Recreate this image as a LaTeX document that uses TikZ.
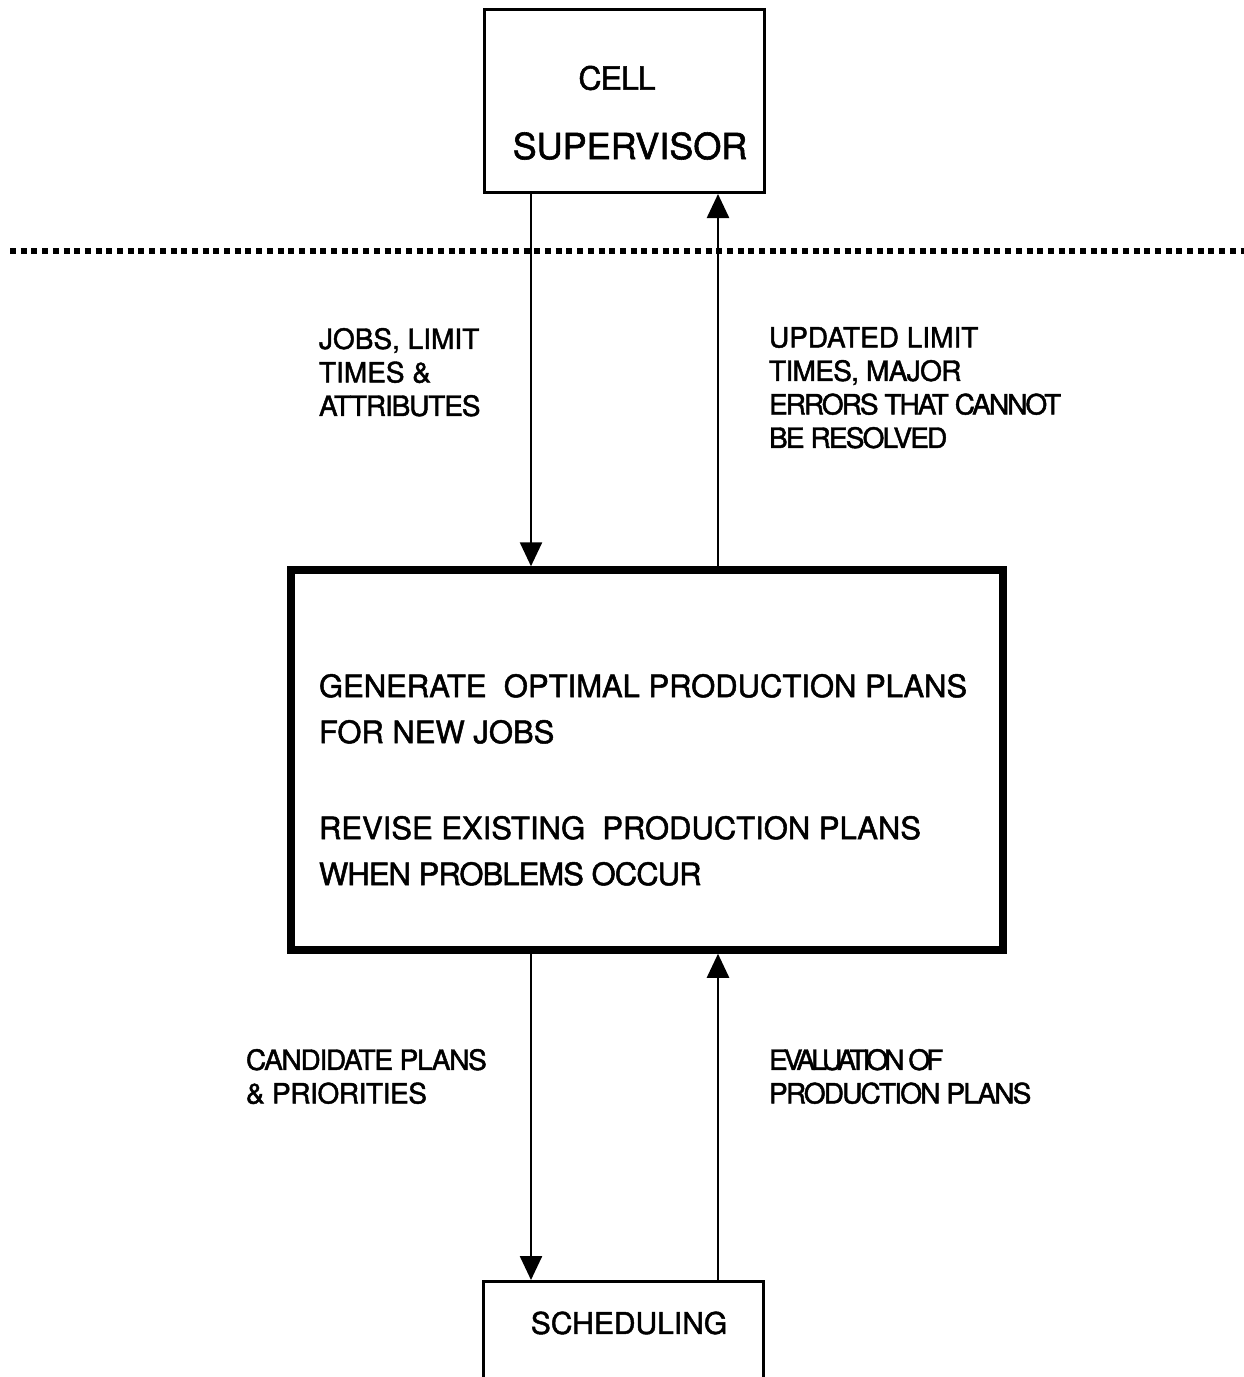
\documentclass[tikz,border=0pt]{standalone}
\usepackage{fontspec}
\setmainfont{TeX Gyre Heros}[FakeBold=1.6]
\usetikzlibrary{arrows.meta}
\newcommand{\tightls}[2]{{\addfontfeature{LetterSpace=#1}#2}}
\tikzset{
  box/.style={draw, line width=3pt, inner sep=0pt},
  mainbox/.style={draw, line width=7.5pt, inner sep=0pt},
  arr/.style={line width=2.5pt, -{Triangle[width=22pt,length=24pt]}},
  lbl/.style={inner sep=0pt, outer sep=0pt, align=left, anchor=north west, font=\fontsize{28}{33.5}\selectfont},
  big/.style={inner sep=0pt, outer sep=0pt, align=left, anchor=north west, font=\fontsize{31}{46}\selectfont},
  dotline/.style={line width=6pt, dash pattern=on 6pt off 4.7pt}
}
\begin{document}
\begin{tikzpicture}[x=1pt,y=-1pt]
\clip (0,0) rectangle (1244,1377);
\fill[white] (0,0) rectangle (1244,1377);
% boxes
\node[box, minimum width=280pt, minimum height=183pt] (cs) at (624.5,101) {};
\node[mainbox, minimum width=712pt, minimum height=380pt] (main) at (647,760) {};
\node[box, minimum width=280pt, minimum height=140pt] (sch) at (623.5,1351.5) {};
% box texts
\node[inner sep=0pt, font=\fontsize{32}{36}\selectfont] (cell) at (617,78) {\tightls{-3}{CELL}};
\node[inner sep=0pt, font=\fontsize{36}{40}\selectfont] (sup) at (630,146) {SUPERVISOR};
\node[inner sep=0pt, font=\fontsize{30}{34}\selectfont] (schl) at (629,1323) {SCHEDULING};
% dotted separator
\coordinate (dl) at (10,251);
\coordinate (dr) at (1244,251);
\draw[dotline] (dl) -- (dr);
% connector x positions
\coordinate (xl) at (531,0);
\coordinate (xr) at (718,0);
% arrows
\draw[arr] (cs.south -| xl) -- (main.north -| xl);
\draw[arr] (main.north -| xr) -- (cs.south -| xr);
\draw[arr] (main.south -| xl) -- (sch.north -| xl);
\draw[arr] (sch.north -| xr) -- (main.south -| xr);
% labels
\node[lbl] (l1) at (319,328) {JOBS, LIMIT\\TIMES \&\\\tightls{-4}{ATTRIBUTES}};
\node[lbl] (l2) at (769,327) {UPDATED LIMIT\\\tightls{-2.4}{TIMES, MAJOR}\\\tightls{-7}{ERRORS THAT CANNOT}\\\tightls{-6.5}{BE RESOLVED}};
\node[big] (g1) at (319,674) {GENERATE\ \ OPTIMAL PRODUCTION PLANS\\FOR NEW JOBS};
\node[big] (g2) at (319,816) {REVISE EXISTING\ \ PRODUCTION PLANS\\\tightls{-3}{WHEN PROBLEMS OCCUR}};
\node[lbl] (l3) at (246,1049) {\tightls{-4.5}{CANDIDATE PLANS}\\\tightls{-1.5}{\& PRIORITIES}};
\node[lbl] (l4) at (769,1049) {\tightls{-14}{EVALUATION OF}\\\tightls{-6.5}{PRODUCTION PLANS}};
\end{tikzpicture}
\end{document}
